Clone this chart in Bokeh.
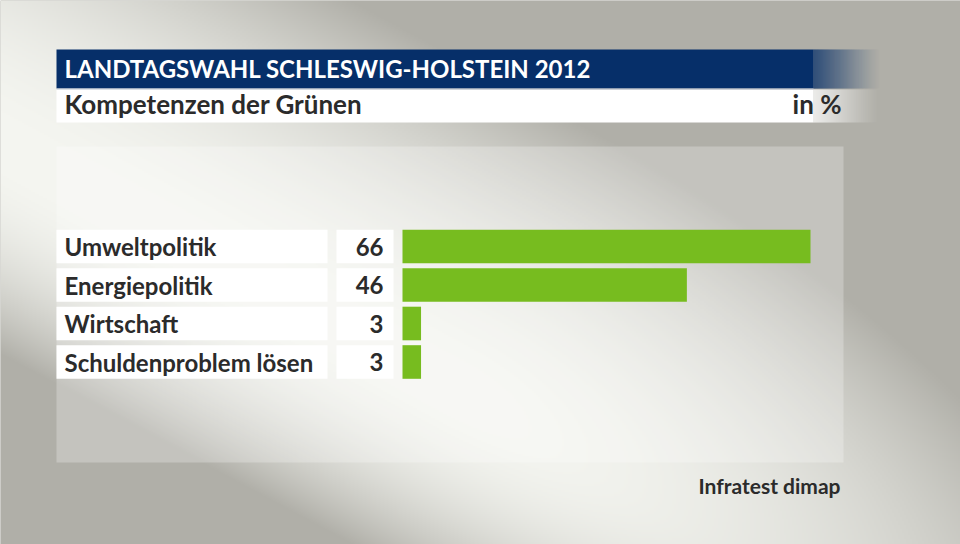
import numpy as np
from bokeh.plotting import figure
from bokeh.models import Range1d, ColumnDataSource
from bokeh.core.properties import value
from bokeh.embed import file_html
from bokeh.resources import INLINE

# ---- data ----
categories = ["Umweltpolitik", "Energiepolitik", "Wirtschaft", "Schuldenproblem lösen"]
values = [66, 46, 3, 3]
value_labels = ["66", "46", "3", "3"]
title = "LANDTAGSWAHL SCHLESWIG-HOLSTEIN 2012"
subtitle = "Kompetenzen der Grünen"
unit = "in %"
source_text = "Infratest dimap"

# ---- layout constants (pixels in figure space) ----
W, H = 960, 544
BAR_X0 = 402.0          # px where value 0 sits
PX_PER_UNIT = 408.0 / 66.0
ROW0 = 246.0            # px centre of first row
ROW_STEP = 38.5
FONT = "Lato"
TXT = "#2b2b2b"

x_range = Range1d(-BAR_X0 / PX_PER_UNIT, (W - BAR_X0) / PX_PER_UNIT)
y_range = Range1d((H - ROW0) / ROW_STEP, -ROW0 / ROW_STEP)

p = figure(width=W, height=H, x_range=x_range, y_range=y_range,
           x_axis_location=None, y_axis_location=None,
           output_backend="svg", toolbar_location=None, min_border=0,
           outline_line_color=None, background_fill_color="#b0afa8",
           border_fill_color="#b0afa8")
p.grid.visible = False
p.extra_x_ranges = {"px": Range1d(0, W)}
p.extra_y_ranges = {"px": Range1d(H, 0)}

# ---- background gradient ----
s = 2
hh, ww = H // s, W // s
yy, xx = np.mgrid[0:hh, 0:ww].astype(float)
X = xx * s + s / 2
Y = yy * s + s / 2
cx, cy = 450.0, 393.0
ang = np.arctan(0.54)
ca, sa = np.cos(ang), np.sin(ang)
vx, vy = X - cx, Y - cy
along = vx * ca + vy * sa
perp = -vx * sa + vy * ca          # >0 below the line, <0 above
pa = np.where(along > 0, (along / 750.0) ** 2, 0.0)
pp = np.where(perp < 0, (perp / 300.0) ** 2, (perp / 180.0) ** 2)
t = np.clip(1 - pa - pp, 0, 1)
gray = np.array([176, 175, 168], float)
light = np.array([245, 246, 241], float)
rgb = gray[None, None, :] + t[..., None] * (light - gray)[None, None, :]
img = np.empty((hh, ww), dtype=np.uint32)
view = img.view(dtype=np.uint8).reshape((hh, ww, 4))
view[..., 0:3] = np.clip(rgb, 0, 255).astype(np.uint8)
view[..., 3] = 255
p.image_rgba(image=[img], x=0, y=0, dw=W, dh=H, x_range_name="px", y_range_name="px")

# lighter panel
p.quad(left=[56], right=[843], top=[146], bottom=[462], fill_color="white",
       fill_alpha=0.25, line_color=None, x_range_name="px", y_range_name="px")

# ---- header bars ----
def fading_bar(x0, x1, xf, top, bottom, color):
    p.quad(left=[x0], right=[x1], top=[top], bottom=[bottom], fill_color=color,
           line_color=None, x_range_name="px", y_range_name="px")
    n = int(xf - x1)
    lefts = [x1 + i for i in range(n)]
    rights = [l + 1 for l in lefts]
    alphas = [(1 - (i + 0.5) / n) ** 1.3 for i in range(n)]
    src = ColumnDataSource(dict(left=lefts, right=rights, alpha=alphas))
    p.quad(left="left", right="right", top=top, bottom=bottom, source=src,
           fill_color=color, fill_alpha="alpha", line_color=None,
           x_range_name="px", y_range_name="px")

fading_bar(56, 813, 880, 49, 88, "#062f69")
fading_bar(56, 813, 880, 89, 122, "#ffffff")
p.quad(left=[56], right=[813], top=[88], bottom=[89], fill_color="#c2cad8",
       line_color=None, x_range_name="px", y_range_name="px")

p.text(x=[64], y=[68], text=[title], text_font=value(FONT), text_font_style="bold",
       text_font_size="24px", text_color="white", text_baseline="alphabetic",
       x_range_name="px", y_range_name="px")
p.text(x=[64], y=[103], text=[subtitle], text_font=value(FONT), text_font_style="bold",
       text_font_size="26px", text_color=TXT, text_baseline="alphabetic",
       x_range_name="px", y_range_name="px")
p.text(x=[841], y=[103], text=[unit], text_font=value(FONT), text_font_style="bold",
       text_font_size="26px", text_color=TXT, text_baseline="alphabetic",
       text_align="right", x_range_name="px", y_range_name="px")

# ---- rows ----
rows = list(range(len(categories)))
half = 16.8 / ROW_STEP
rsrc = ColumnDataSource(dict(row=rows, top=[r - half for r in rows],
                             bottom=[r + half for r in rows],
                             cat=categories, val=values, vlab=value_labels))
p.quad(left=56, right=327, top="top", bottom="bottom", source=rsrc,
       fill_color="white", line_color=None, x_range_name="px")
p.quad(left=336, right=393, top="top", bottom="bottom", source=rsrc,
       fill_color="white", line_color=None, x_range_name="px")
p.hbar(y="row", left=0, right="val", height=2 * half, source=rsrc,
       fill_color="#77bc1f", line_color=None)

p.text(x=64, y="row", text="cat", source=rsrc, y_offset=0, text_font=value(FONT),
       text_font_style="bold", text_font_size="24px", text_color=TXT,
       text_baseline="alphabetic", x_range_name="px")
p.text(x=383, y="row", text="vlab", source=rsrc, y_offset=0, text_font=value(FONT),
       text_font_style="bold", text_font_size="24px", text_color=TXT,
       text_baseline="alphabetic", text_align="right", x_range_name="px")

# ---- source ----
p.text(x=[840], y=[485], text=[source_text], text_font=value(FONT), text_font_style="bold",
       text_font_size="21px", text_color=TXT, text_baseline="alphabetic",
       text_align="right", x_range_name="px", y_range_name="px")

open("out.html", "w").write(file_html(p, INLINE))
